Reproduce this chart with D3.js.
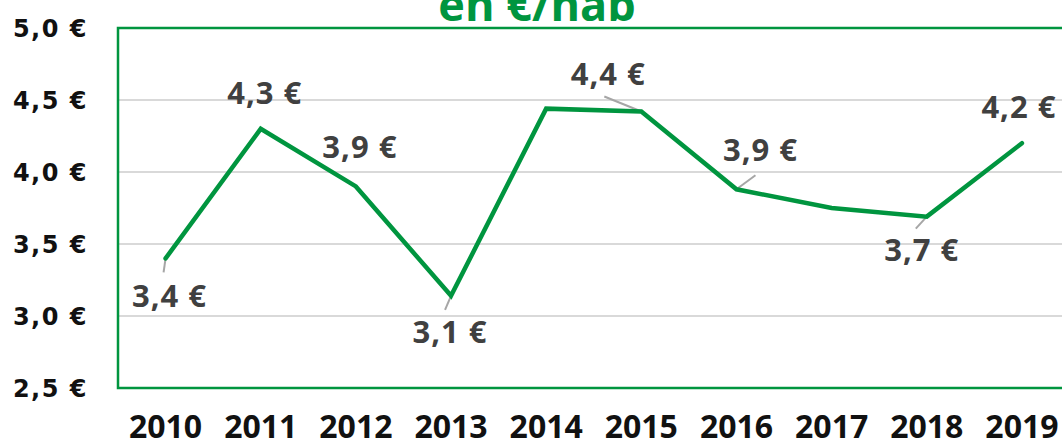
<!DOCTYPE html>
<html>
<head>
    <title>en €/hab</title>
    <script src="https://cdnjs.cloudflare.com/ajax/libs/d3/7.8.5/d3.min.js"></script>
    <style>
    body { margin:0; background:#fff; }
    svg { display:block; }
    .y-label { font-family:"DejaVu Sans", sans-serif; font-weight:bold; font-size:24px; letter-spacing:1.5px; fill:#111; }
    .x-label { font-family:"Open Sans", sans-serif; font-weight:bold; font-size:32px; fill:#111; }
    .data-label { font-family:"Open Sans", sans-serif; font-weight:bold; font-size:31px; fill:#404040; letter-spacing:1px; }
    .title { font-family:"Open Sans", sans-serif; font-weight:bold; font-size:45px; fill:#00953f; }
    </style>
</head>
<body>
<div class="chart"></div>
<script>

var years = ['2010','2011','2012','2013','2014','2015','2016','2017','2018','2019'];
var values = [3.40, 4.30, 3.90, 3.14, 4.44, 4.42, 3.88, 3.75, 3.69, 4.20];
var yTicks = [2.5, 3.0, 3.5, 4.0, 4.5, 5.0];

// label placement: [dx, dy] from the point, null = no label
var labelOffsets = [[4,49], [4,-25], [4,-28], [-1,47], null, [-33,-27], [24,-28], null, [-5,44], [-3,-25]];
// leader line end, relative to point
var leaders = [[-2,14], null, null, [-6,14], null, [-37,-15], [19,-14], null, [-11,12], null];

var width = 1062, height = 438;
var plotLeft = 118, plotRight = 1069.5, plotTop = 28, plotBottom = 388;
var green = '#00953f';

var svg = d3.select('.chart').append('svg')
    .attr('width', width)
    .attr('height', height);

var x = d3.scaleBand().domain(years).range([plotLeft, plotRight]);
var y = d3.scaleLinear().domain([2.5, 5]).range([plotBottom, plotTop]);
var cx = function(d) { return x(d) + x.bandwidth() / 2; };

function fmt(v) {
    return d3.format('.1f')(v).replace('.', ',') + ' €';
}

// title (second line, clipped by the top edge)
svg.append('text')
    .attr('class', 'title')
    .attr('x', 537)
    .attr('y', 21)
    .attr('text-anchor', 'middle')
    .text('en €/hab');

// gridlines
svg.selectAll('.grid')
    .data(yTicks.slice(1, -1))
    .enter().append('line')
    .attr('x1', plotLeft).attr('x2', plotRight)
    .attr('y1', function(d) { return y(d); })
    .attr('y2', function(d) { return y(d); })
    .attr('stroke', '#d9d9d9')
    .attr('stroke-width', 2);

// plot frame
svg.append('rect')
    .attr('x', plotLeft).attr('y', plotTop)
    .attr('width', plotRight - plotLeft).attr('height', plotBottom - plotTop)
    .attr('fill', 'none')
    .attr('stroke', green)
    .attr('stroke-width', 2.5);

// y axis labels
svg.selectAll('.y-label')
    .data(yTicks)
    .enter().append('text')
    .attr('class', 'y-label')
    .attr('x', 88)
    .attr('y', function(d) { return y(d) + 9; })
    .attr('text-anchor', 'end')
    .text(fmt);

// x axis labels
svg.selectAll('.x-label')
    .data(years)
    .enter().append('text')
    .attr('class', 'x-label')
    .attr('x', cx)
    .attr('y', 438)
    .attr('text-anchor', 'middle')
    .text(function(d) { return d; });

var pts = years.map(function(d, i) { return [cx(d), y(values[i])]; });

// leader lines
var leaderData = [];
pts.forEach(function(p, i) {
    if (leaders[i]) leaderData.push([p, [p[0] + leaders[i][0], p[1] + leaders[i][1]]]);
});
svg.selectAll('.leader')
    .data(leaderData)
    .enter().append('line')
    .attr('x1', function(d) { return d[0][0]; })
    .attr('y1', function(d) { return d[0][1]; })
    .attr('x2', function(d) { return d[1][0]; })
    .attr('y2', function(d) { return d[1][1]; })
    .attr('stroke', '#a6a6a6')
    .attr('stroke-width', 2);

// line
svg.append('path')
    .datum(pts)
    .attr('d', d3.line())
    .attr('fill', 'none')
    .attr('stroke', green)
    .attr('stroke-width', 4.5)
    .attr('stroke-linejoin', 'miter')
    .attr('stroke-linecap', 'round');

// data labels
values.forEach(function(v, i) {
    var off = labelOffsets[i];
    if (!off) return;
    svg.append('text')
        .attr('class', 'data-label')
        .attr('x', pts[i][0] + off[0])
        .attr('y', pts[i][1] + off[1])
        .attr('text-anchor', 'middle')
        .text(fmt(v));
});

</script>
</body>
</html>
